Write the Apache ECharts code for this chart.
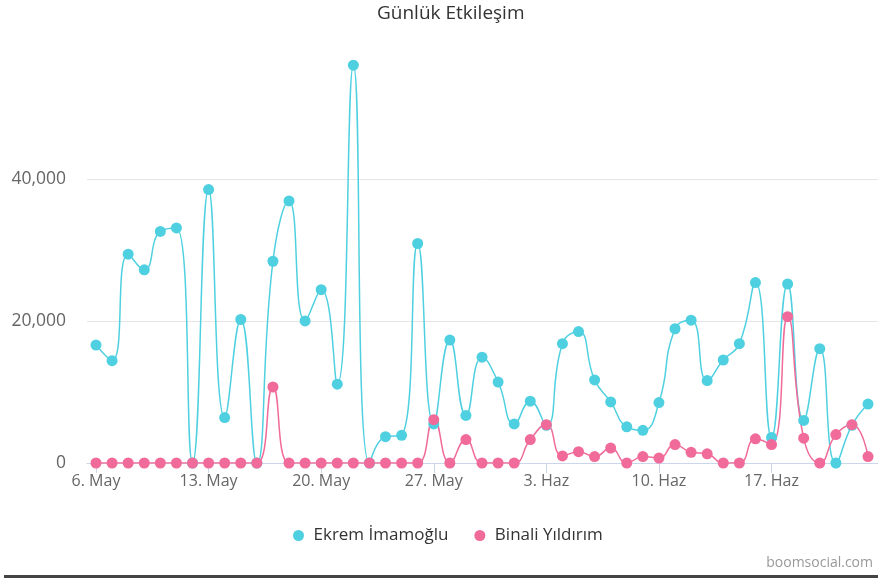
<!DOCTYPE html>
<html><head><meta charset="utf-8">
<script src="https://cdn.jsdelivr.net/npm/echarts@6/dist/echarts.min.js"></script>
<style>html,body{margin:0;padding:0;background:#fff}#c{width:878px;height:579px}</style>
</head><body><div id="c"></div>
<script>
// Days from 6 May to 23 June (index 0..48)
const tickIndex = [0, 7, 14, 21, 28, 35, 42];
const tickLabels = ['6. May', '13. May', '20. May', '27. May', '3. Haz', '10. Haz', '17. Haz'];
const ekrem = [16600,14400,29400,27200,32600,33100,0,38500,6400,20200,0,28400,36900,20000,24400,11100,56000,0,3700,3900,30900,5500,17300,6700,14900,11400,5500,8700,5300,16800,18500,11700,8600,5100,4600,8500,18900,20100,11600,14500,16800,25400,3600,25200,6000,16100,0,5300,8300];
const binali = [0,0,0,0,0,0,0,0,0,0,0,10700,0,0,0,0,0,0,0,0,0,6100,0,3300,0,0,0,3300,5400,1000,1600,900,2100,0,900,700,2600,1500,1300,0,0,3400,2600,20600,3500,0,4000,5400,900];
const yTicks = [0, 20000, 40000];

const font = "'Open Sans', sans-serif";
const chart = echarts.init(document.getElementById('c'));
const toPts = arr => arr.map((v, i) => [i, v]);
chart.setOption({
  animation: false,
  title: {
    text: 'Günlük Etkileşim', left: 372, top: -1, itemGap: 0,
    textStyle: { fontFamily: font, fontSize: 19, fontWeight: 'normal', color: '#333' }
  },
  legend: {
    bottom: 30, left: 288, itemGap: 26, itemWidth: 20, itemHeight: 11, icon: 'circle', symbolKeepAspect: true,
    textStyle: { fontFamily: font, fontSize: 17, color: '#333' },
    data: ['Ekrem İmamoğlu', 'Binali Yıldırım']
  },
  grid: { left: 87, right: 0, top: 51, bottom: 116, containLabel: false },
  xAxis: {
    type: 'value', min: -0.56, max: 48.62,
    axisLine: { show: true, onZero: true, lineStyle: { color: '#ccd6eb', width: 1 } },
    axisTick: { show: true, length: 10, lineStyle: { color: '#ccd6eb' }, customValues: tickIndex },
    axisLabel: {
      customValues: tickIndex, margin: 10,
      formatter: v => tickLabels[tickIndex.indexOf(Math.round(v))] || '',
      fontFamily: font, fontSize: 16, color: '#666'
    },
    splitLine: { show: false }
  },
  yAxis: {
    type: 'value', min: 0, max: 58000,
    axisLine: { show: false }, axisTick: { show: false },
    axisLabel: {
      customValues: yTicks, margin: 21,
      formatter: v => v.toLocaleString('en-US'),
      fontFamily: font, fontSize: 17.5, color: '#666'
    },
    splitLine: { show: true, showMaxLine: false, showMinLine: false, lineStyle: { color: '#e6e6e6' } },
    interval: 20000
  },
  series: [
    {
      name: 'Ekrem İmamoğlu', type: 'line', data: toPts(ekrem), smooth: 0.5,
      symbol: 'circle', symbolSize: 11, color: '#4fd0e0',
      lineStyle: { width: 1.5 }, itemStyle: { color: '#4fd0e0' }
    },
    {
      name: 'Binali Yıldırım', type: 'line', data: toPts(binali), smooth: 0.5,
      symbol: 'circle', symbolSize: 11, color: '#f06a9a',
      lineStyle: { width: 1.5 }, itemStyle: { color: '#f06a9a' }
    }
  ],
  graphic: [
    { type: 'text', right: 5, top: 556, style: { text: 'boomsocial.com', fontFamily: font, fontSize: 14, fill: '#999' } },
    { type: 'rect', shape: { x: 4, y: 575, width: 874, height: 3 }, style: { fill: '#444' } }
  ]
});
</script></body></html>
